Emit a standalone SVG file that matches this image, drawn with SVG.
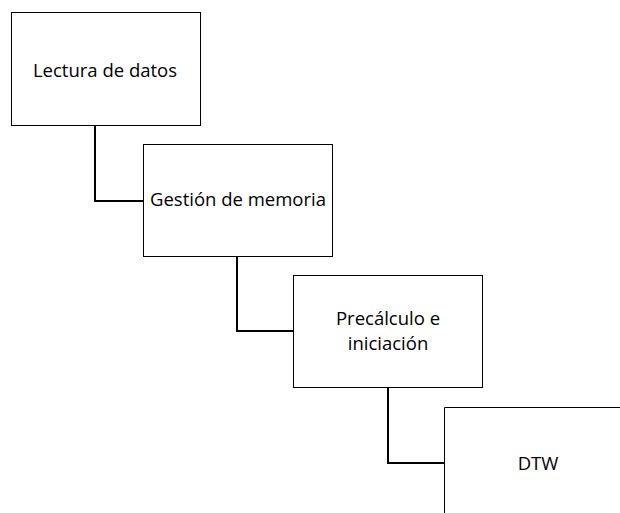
<svg xmlns="http://www.w3.org/2000/svg" width="620" height="513" viewBox="0 0 620 513">
<style>
.box{fill:#fff;stroke:#000;stroke-width:1}
.lbl{font-family:"Open Sans","Liberation Sans",Arial,sans-serif;font-size:18.5px;fill:#000;text-anchor:middle}
.con{fill:none;stroke:#000;stroke-width:2}
</style>
<rect width="620" height="513" fill="#fff"/>
<g id="connectors">
<polyline class="con" points="95,125 95,201 143,201"/>
<polyline class="con" points="237,256 237,331 293,331"/>
<polyline class="con" points="388,387 388,463 444,463"/>
</g>
<g id="n1"><rect class="box" x="11.5" y="12.5" width="189" height="113"/><text class="lbl" x="105" y="77">Lectura de datos</text></g>
<g id="n2"><rect class="box" x="143.5" y="144.5" width="189" height="112"/><text class="lbl" x="238" y="206">Gestión de memoria</text></g>
<g id="n3"><rect class="box" x="293.5" y="275.5" width="189" height="112"/><text class="lbl" x="388" y="325">Precálculo e</text><text class="lbl" x="388" y="350">iniciación</text></g>
<g id="n4"><path class="box" d="M632,407.5 H444.5 V520"/><text class="lbl" x="538" y="470">DTW</text></g>
</svg>
